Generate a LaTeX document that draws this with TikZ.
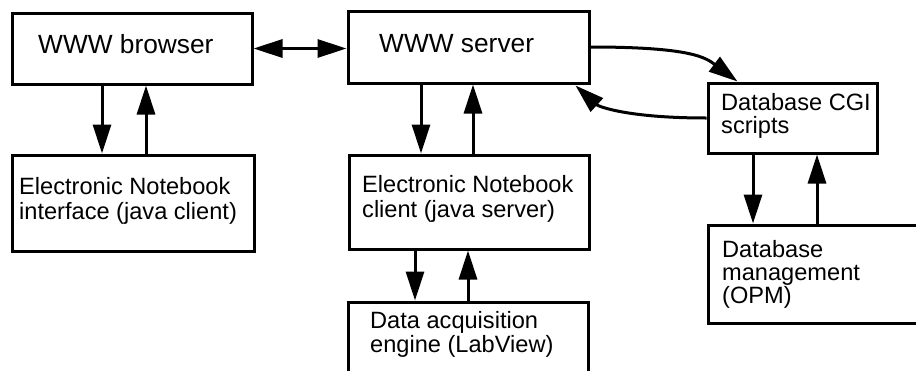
\documentclass[tikz,border=0pt]{standalone}
\usepackage{fontspec}
\setmainfont{Liberation Sans}
\usetikzlibrary{arrows.meta}
\begin{document}
\begin{tikzpicture}[x=1pt,y=-1pt,
  box/.style={draw, line width=3pt, inner sep=0pt},
  arr/.style={line width=3pt, -{Triangle[length=29pt,width=18pt]}},
  darr/.style={line width=3pt, {Triangle[length=29pt,width=18pt]}-{Triangle[length=29pt,width=18pt]}},
  big/.style={anchor=north west, inner sep=0pt, font=\fontsize{26.3pt}{30pt}\selectfont},
  small/.style={anchor=north west, inner sep=0pt, align=left, font=\fontsize{23.6pt}{#1}\selectfont},
  small/.default=24pt]
\useasboundingbox (0,0) rectangle (916,370);
\clip (0,0) rectangle (916,370);

% boxes
\node[box, minimum width=240pt, minimum height=71pt] (browser) at (132,48.5) {};
\node[box, minimum width=241pt, minimum height=72pt] (server)  at (468.5,47) {};
\node[box, minimum width=242pt, minimum height=96pt] (iface)   at (133,203) {};
\node[box, minimum width=240pt, minimum height=94pt] (client)  at (469,202) {};
\node[box, minimum width=240pt, minimum height=80pt] (daq)     at (468,342) {};
\node[box, minimum width=169pt, minimum height=70pt] (cgi)     at (792.5,118) {};
\node[box, minimum width=214pt, minimum height=98pt] (dbm)     at (815,274) {};

% texts
\node[big] (tbrowser) at (38,34.2) {WWW browser};
\node[big] (tserver)  at (379,34.2) {WWW server};
\node[small=25.5pt] (tiface)  at (19,177.1) {Electronic Notebook\\interface (java client)};
\node[small=25pt]   (tclient) at (362,175.1) {Electronic Notebook\\client (java server)};
\node[small=24pt]   (tdaq)    at (370,311.1) {Data acquisition\\engine (LabView)};
\node[small=23pt]   (tcgi)    at (721,93.1) {Database CGI\\scripts};
\node[small=23pt]   (tdbm)    at (722,240.1) {Database\\management\\(OPM)};

% browser <-> server
\draw[darr] (browser.east) -- (browser.east -| server.west);

% browser <-> interface
\draw[arr] ([xshift=-30pt]browser.south) -- ([xshift=-30pt]browser.south |- iface.north);
\draw[arr] ([xshift=14pt]browser.south |- iface.north) -- ([xshift=14pt]browser.south);

% server <-> client
\draw[arr] ([xshift=-47.5pt]server.south) -- ([xshift=-47.5pt]server.south |- client.north);
\draw[arr] ([xshift=4.5pt]server.south |- client.north) -- ([xshift=4.5pt]server.south);

% client <-> data acquisition
\draw[arr] ([xshift=-54pt]client.south) -- ([xshift=-54pt]client.south |- daq.north);
\draw[arr] ([xshift=-1pt]client.south |- daq.north) -- ([xshift=-1pt]client.south);

% CGI <-> database management
\draw[arr] ([xshift=-39.5pt]cgi.south) -- ([xshift=-39.5pt]cgi.south |- dbm.north);
\draw[arr] ([xshift=24.5pt]cgi.south |- dbm.north) -- ([xshift=24.5pt]cgi.south);

% server <-> CGI scripts
\draw[arr] (server.east) .. controls +(100,0) and +(-32,-24) .. ([xshift=-55pt]cgi.north);
\draw[arr] (cgi.west) .. controls +(-79,0) and +(23,21) .. ([xshift=-15pt,yshift=-1pt]server.south east);
\end{tikzpicture}
\end{document}
